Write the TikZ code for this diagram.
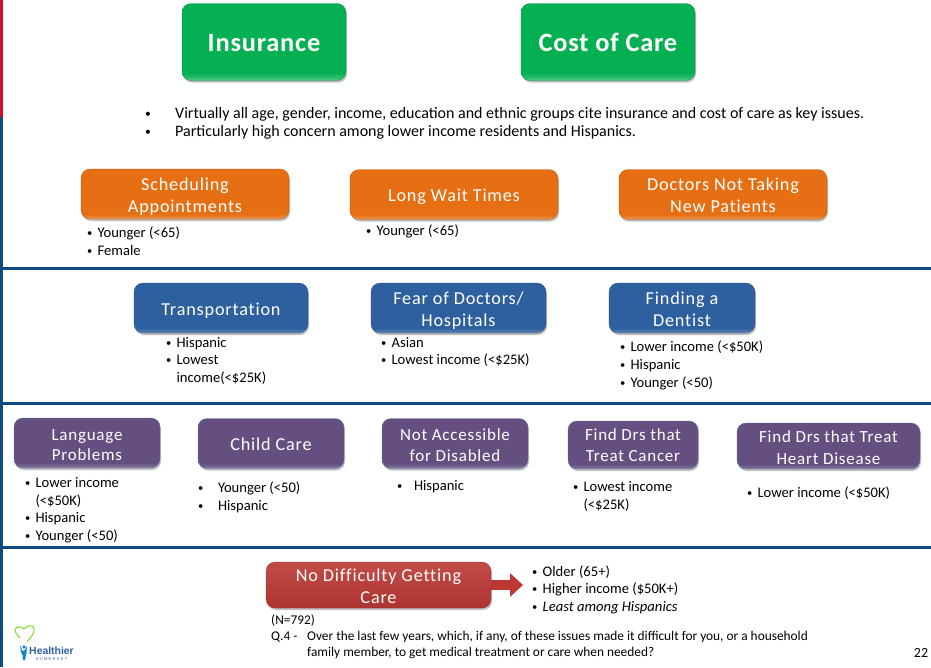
\documentclass[tikz,border=0pt]{standalone}
\usepackage{fontspec}
\usepackage{xcolor}
\usepackage{tikz}
\usetikzlibrary{positioning,shadows,arrows.meta}
\setmainfont{Carlito}
\newfontfamily\boxfont[LetterSpace=4.5,Ligatures=CommonOff]{Carlito}
\newfontfamily\headfont[LetterSpace=3,Ligatures=CommonOff]{Carlito}
\newfontfamily\logofont{Liberation Sans}
\definecolor{barblue}{HTML}{0F4A84}
\definecolor{barred}{HTML}{C8102E}
\definecolor{boxc}{HTML}{000000}
\newcommand{\bul}[1][10.5pt]{\makebox[#1][l]{\raisebox{1pt}{\scalebox{0.72}{\textbullet}}}}
% flat face with a lighter rim along the bottom edge
\pgfdeclareverticalshading[boxc]{bevelbox}{100bp}{color(0bp)=(boxc!65!white); color(25bp)=(boxc!65!white); color(27bp)=(boxc!85!white); color(30bp)=(boxc); color(100bp)=(boxc)}
\begin{document}
\begin{tikzpicture}[
    x=1pt,y=-1pt,
    baseshadow/.style={drop shadow={shadow xshift=1pt,shadow yshift=-2pt,opacity=0.25,fill=black}},
    topbox/.style={rectangle,rounded corners=9pt,draw=#1!75!black,very thin,/utils/exec={\colorlet{boxc}{#1}},shading=bevelbox,baseshadow,
      text=white,align=center,inner sep=0pt,
      execute at begin node={\rule{0pt}{19pt}},execute at end node={\rule[-5pt]{0pt}{5pt}}},
    twoline/.style={execute at begin node={\rule{0pt}{#1}}},
    twoline/.default=41pt,
    greenbox/.style={topbox=green1,minimum width=164pt,minimum height=77pt,font=\headfont\fontsize{26.4}{28}\bfseries\selectfont,
      execute at begin node={\rule{0pt}{23pt}}},
    orangebox/.style={topbox=orange1,minimum width=208pt,minimum height=50pt,font=\boxfont\fontsize{18.2}{22}\selectfont},
    bluebox/.style={topbox=blue1,minimum height=50pt,font=\boxfont\fontsize{18.2}{22}\selectfont},
    purplebox/.style={topbox=purple1,draw=blue1!85!white,thin,minimum height=50pt,font=\boxfont\fontsize{17}{20}\selectfont},
    redbox/.style={topbox=red1,minimum width=225pt,minimum height=40pt,font=\boxfont\fontsize{18.2}{22}\selectfont,
      top color=red1!90!white,middle color=red1!90!black,bottom color=red1!92!black},
    blist/.style={align=left,inner sep=0pt,font=\fontsize{14.6}{17.6}\selectfont},
    plain/.style={align=left,inner sep=0pt,font=\fontsize{16}{18}\selectfont}
]
    \definecolor{green1}{HTML}{05B053}
    \definecolor{orange1}{HTML}{E56F12}
    \definecolor{blue1}{HTML}{2E5F9E}
    \definecolor{purple1}{HTML}{654F80}
    \definecolor{red1}{HTML}{BC3834}
    \useasboundingbox (0,0) rectangle (931,667);

    % side bar and section rules
    \fill[barred] (0,0) rectangle (3,117);
    \fill[barblue] (0,117) rectangle (3,667);
    \fill[barblue] (3,267) rectangle (931,269.5);
    \fill[barblue] (3,402) rectangle (931,404.5);
    \fill[barblue] (3,546) rectangle (931,548.5);

    % top row
    \node[greenbox] (insurance) at (264,42) {Insurance};
    \node[greenbox,minimum width=174pt] (cost) at (608,42) {Cost of Care};
    \node[plain,anchor=north west] (summary) at (145,107) {%
      \bul[30pt]Virtually all age, gender, income, education and ethnic groups cite insurance and cost of care as key issues.\\
      \bul[30pt]Particularly high concern among lower income residents and Hispanics.};

    % orange row
    \node[orangebox,twoline] (sched) at (185,194) {Scheduling\\Appointments};
    \node[orangebox] (wait) at (454,194.5) {Long Wait Times};
    \node[orangebox,twoline] (doctors) at (723,194.5) {Doctors Not Taking\\New Patients};
    \node[blist] (schedlist) [below right=8pt and 6pt of sched.south west] {\bul Younger (<65)\\\bul Female};
    \node[blist] (waitlist) [below right=5pt and 16pt of wait.south west] {\bul Younger (<65)};

    % blue row
    \node[bluebox,minimum width=174pt] (transport) at (221,308) {Transportation};
    \node[bluebox,minimum width=175pt,twoline] (fear) at (458.5,308) {Fear of Doctors/\\Hospitals};
    \node[bluebox,minimum width=146pt,twoline] (dentist) at (682,308) {Finding a\\Dentist};
    \node[blist] (transportlist) [below right=4pt and 32pt of transport.south west] {\bul Hispanic\\\bul Lowest\\\hspace*{10.5pt}income(<\$25K)};
    \node[blist] (fearlist) [below right=4pt and 10pt of fear.south west] {\bul Asian\\\bul Lowest income (<\$25K)};
    \node[blist] (dentistlist) [below right=8pt and 11pt of dentist.south west] {\bul Lower income (<\$50K)\\\bul Hispanic\\\bul Younger (<50)};

    % purple row
    \node[purplebox,minimum width=146pt,twoline=39pt] (language) at (87,443) {Language\\Problems};
    \node[purplebox,minimum width=146pt,font=\boxfont\fontsize{18.2}{22}\selectfont] (child) at (271,443.5) {Child Care};
    \node[purplebox,minimum width=146pt,twoline=40pt] (access) at (455,443.5) {Not Accessible\\[1pt]for Disabled};
    \node[purplebox,minimum width=130pt,minimum height=48pt,twoline=38pt] (cancer) at (633,445) {Find Drs that\\[1pt]Treat Cancer};
    \node[purplebox,minimum width=183pt,minimum height=46pt,twoline] (heart) at (828.5,446) {Find Drs that Treat\\[2pt]Heart Disease};
    \node[blist] (languagelist) [below right=9pt and 11pt of language.south west] {\bul Lower income\\\hspace*{10.5pt}(<\$50K)\\\bul Hispanic\\\bul Younger (<50)};
    \node[blist] (childlist) [below right=13pt and 0pt of child.south west] {\bul[20pt]Younger (<50)\\\bul[20pt]Hispanic};
    \node[blist] (accesslist) [below right=12pt and 15pt of access.south west] {\bul[17pt]Hispanic};
    \node[blist] (cancerlist) [below right=12pt and 5pt of cancer.south west] {\bul Lowest income\\\hspace*{10.5pt}(<\$25K)};
    \node[blist] (heartlist) [below right=17pt and 10pt of heart.south west] {\bul Lower income (<\$50K)};

    % red row
    \node[redbox,twoline] (nodiff) at (378.5,585) {No Difficulty Getting\\Care};
    \node[blist,anchor=north west] (nodifflist) at (532,565.5) {\bul Older (65+)\\\bul Higher income (\$50K+)\\\bul \textit{Least among Hispanics}};
    \draw[red1,line width=10pt,-{Triangle[length=13pt,width=23pt]},shorten >=9pt] (nodiff.east) -- (nodiff.east -| nodifflist.west);

    % question text
    \node[plain,anchor=north west,font=\fontsize{13.36}{16}\selectfont] (question) at (271,614.5) {(N=792)\\
      \makebox[36pt][l]{Q.4 -}Over the last few years, which, if any, of these issues made it difficult for you, or a household\\
      \hspace*{36pt}family member, to get medical treatment or care when needed?};
    \node[inner sep=0pt,font=\fontsize{14}{16}\selectfont] (pagenum) at (921,653) {22};

    % logo
    \node[inner sep=0pt,text=blue1,font=\logofont\fontsize{10.4}{11}\bfseries\selectfont] (logoname) at (51.5,651) {Healthier};
    \node[inner sep=0pt,text=blue1,font=\logofont\fontsize{4}{4}\selectfont] (logosub) [below=2pt of logoname] {S\,\,O\,\,M\,\,E\,\,R\,\,S\,\,E\,\,T};
    \draw[green1!50!yellow,line width=1pt] (27,642) .. controls (30,637) and (35,634) .. (34,628) .. controls (33,624) and (26,626) .. (24,629) .. controls (21,626) and (16,626) .. (15,630) .. controls (15,633) and (18,635) .. (20,638);
    \fill[cyan!70!blue] (24,647) circle (1.8pt);
    \fill[cyan!70!blue] (20,645) -- (22.5,651) -- (25,650) -- (27,646) -- (26.5,653) -- (25,660) -- (23,660) -- (22.5,655) -- (21,652) -- cycle;
\end{tikzpicture}
\end{document}
